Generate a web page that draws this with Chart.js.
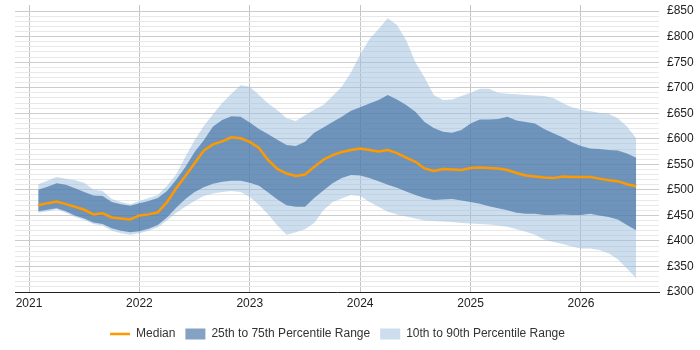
<!DOCTYPE html>
<html>
<head>
<meta charset="utf-8">
<script src="https://cdn.jsdelivr.net/npm/chart.js@4/dist/chart.umd.min.js"></script>
<style>
  body { margin: 0; background: #fff; }
  canvas { display: block; }
</style>
</head>
<body>
<canvas id="myChart" width="700" height="350"></canvas>
<script>
// monthly points, Feb 2021 .. Jul 2026
const months = [
  "2021-02","2021-03","2021-04","2021-05","2021-06","2021-07","2021-08","2021-09","2021-10","2021-11","2021-12",
  "2022-01","2022-02","2022-03","2022-04","2022-05","2022-06","2022-07","2022-08","2022-09","2022-10","2022-11","2022-12",
  "2023-01","2023-02","2023-03","2023-04","2023-05","2023-06","2023-07","2023-08","2023-09","2023-10","2023-11","2023-12",
  "2024-01","2024-02","2024-03","2024-04","2024-05","2024-06","2024-07","2024-08","2024-09","2024-10","2024-11","2024-12",
  "2025-01","2025-02","2025-03","2025-04","2025-05","2025-06","2025-07","2025-08","2025-09","2025-10","2025-11","2025-12",
  "2026-01","2026-02","2026-03","2026-04","2026-05","2026-06","2026-07"
];

const p90 = [511,518,525,522,519,514,500,498,482,476,
  472,478,484,490,508,530,565,597,625,648,
  670,688,705,702,686,669,656,640,635,646,
  657,666,684,702,730,765,795,815,836,823,
  793,750,720,686,676,677,684,690,698,698,
  690,688,687,686,685,684,680,670,662,657,
  654,651,649,640,624,601];

const p75 = [500,506,513,510,503,496,489,488,476,472,
  469,474,478,484,498,520,545,574,597,624,
  637,644,643,632,619,609,598,588,586,594,
  612,622,633,643,655,662,669,676,686,677,
  666,653,633,621,614,612,617,630,638,638,
  639,643,636,633,630,619,611,603,593,586,
  581,580,578,577,571,563];

const median = [470,474,477,472,467,461,452,454,446,444,
  442,450,452,456,476,503,527,552,577,589,
  595,603,601,594,582,558,541,532,527,530,
  545,559,568,574,578,581,578,575,578,572,
  563,555,542,537,541,540,539,543,544,543,
  542,539,533,528,526,524,523,526,525,525,
  525,522,519,517,511,507];

const p25 = [458,461,464,458,450,444,436,433,425,420,
  417,419,424,431,446,465,482,496,505,512,
  516,518,518,514,508,495,481,470,467,467,
  484,499,513,523,529,528,523,517,510,504,
  497,490,484,480,481,482,479,476,473,468,
  464,460,455,453,453,451,451,452,451,451,
  453,450,447,442,431,421];

const p10 = [455,458,462,455,447,441,433,430,420,415,
  412,415,420,427,440,455,467,478,488,493,
  496,498,496,486,471,452,430,412,417,423,
  435,460,476,483,490,488,476,467,457,452,
  448,444,440,439,438,437,435,434,433,432,
  430,428,423,418,412,403,398,394,389,385,
  385,382,376,364,346,327];

const xYears = [2021, 2022, 2023, 2024, 2025, 2026];
const yLabelled = [300, 350, 400, 450, 500, 550, 600, 650, 700, 750, 800, 850];

// "2021-02" -> 2021.083
function toYear(m) {
  const [y, mo] = m.split("-").map(Number);
  return y + (mo - 1) / 12;
}

function points(values) {
  return values.map((v, i) => ({ x: toYear(months[i]), y: v }));
}

Chart.defaults.font.family = "'Liberation Sans', Arial, sans-serif";
Chart.defaults.font.size = 12;
Chart.defaults.color = "#333";

const DARK = "rgba(50,100,155,0.6)";
const LIGHT = "rgba(153,188,221,0.5)";

// legend sits a bit left of centre in the original
const legendShift = {
  id: "legendShift",
  afterLayout(chart) {
    chart.legend.left -= 20;
    chart.legend.right -= 20;
  },
};

const config = {
  type: "line",
  data: {
    datasets: [
      //median on top
      {
        label: "Median",
        data: points(median),
        borderColor: "#ff9900",
        backgroundColor: "#ff9900",
        borderWidth: 2.5,
        pointRadius: 0,
        pointStyle: "line",
        fill: false,
      },
      //25-75
      {
        label: "25th to 75th Percentile Range",
        data: points(p75),
        borderWidth: 0,
        borderColor: DARK,
        backgroundColor: DARK,
        pointRadius: 0,
        pointStyle: "rect",
        fill: "+1",
      },
      {
        label: "p25",
        data: points(p25),
        borderWidth: 0,
        pointRadius: 0,
        fill: false,
      },
      //10-90
      {
        label: "10th to 90th Percentile Range",
        data: points(p90),
        borderWidth: 0,
        borderColor: LIGHT,
        backgroundColor: LIGHT,
        pointRadius: 0,
        pointStyle: "rect",
        fill: "+1",
      },
      {
        label: "p10",
        data: points(p10),
        borderWidth: 0,
        pointRadius: 0,
        fill: false,
      },
    ],
  },
  options: {
    responsive: false,
    animation: false,
    layout: { padding: { left: 15, top: 5, right: 0, bottom: 0 } },
    scales: {
      x: {
        type: "linear",
        min: 2020.873,
        max: 2026.707,
        afterBuildTicks: (scale) => {
          scale.ticks = xYears.map((v) => ({ value: v }));
        },
        afterFit: (scale) => {
          scale.height = 26;
          scale.paddingLeft = 0;
          scale.paddingRight = 0;
        },
        ticks: {
          autoSkip: false,
          maxRotation: 0,
          padding: 4,
          color: "#222",
          callback: (v) => String(v),
        },
        grid: { color: "#c4c4c4", drawTicks: false },
        border: { display: true, color: "#222", width: 1 },
      },
      y: {
        position: "right",
        min: 300,
        max: 862,
        afterBuildTicks: (scale) => {
          const t = [];
          for (let v = yLabelled[0]; v <= yLabelled[yLabelled.length - 1]; v += 10) t.push({ value: v });
          scale.ticks = t;
        },
        afterFit: (scale) => {
          scale.width = 41;
          scale.paddingTop = 0;
          scale.paddingBottom = 0;
        },
        ticks: {
          autoSkip: false,
          padding: 8,
          color: "#222",
          callback: (v) => (yLabelled.includes(v) ? "£" + v : ""),
        },
        grid: {
          drawTicks: false,
          color: (ctx) => (ctx.tick && ctx.tick.value % 50 === 0 ? "#cccccc" : "#e8e8e8"),
        },
        border: { display: false },
      },
    },
    plugins: {
      legend: {
        position: "bottom",
        labels: {
          usePointStyle: true,
          pointStyleWidth: 20,
          boxHeight: 11,
          padding: 10,
          color: "#333",
          filter: (item) => item.text !== "p25" && item.text !== "p10",
        },
      },
      tooltip: { enabled: false },
    },
  },
  plugins: [legendShift],
};

const ctx = document.getElementById("myChart").getContext("2d");
new Chart(ctx, config);
</script>
</body>
</html>
